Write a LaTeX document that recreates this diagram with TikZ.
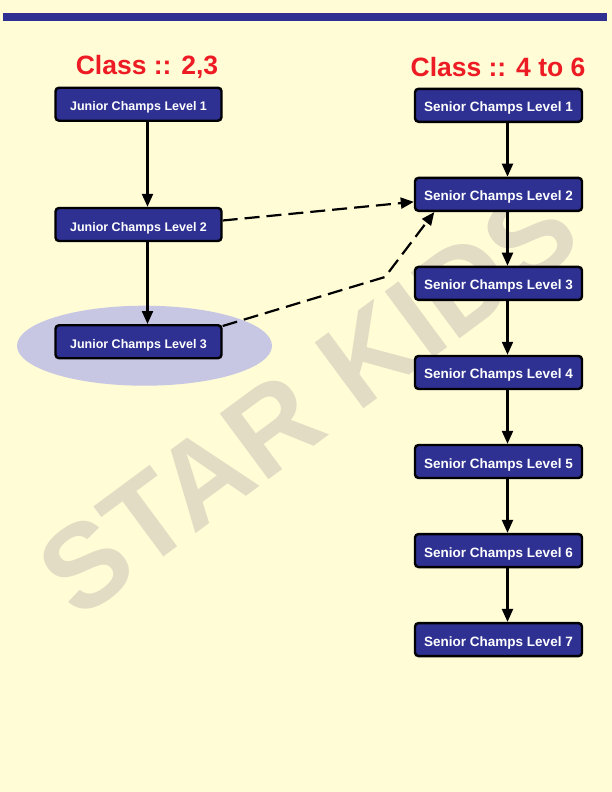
\documentclass[tikz,border=0pt]{standalone}
\usepackage{fontspec}
\setmainfont{Liberation Sans}
\usetikzlibrary{arrows.meta}
\definecolor{paper}{RGB}{255,252,214}
\definecolor{boxblue}{RGB}{46,49,146}
\definecolor{titlered}{RGB}{237,28,36}
\definecolor{halo}{RGB}{199,199,228}
\definecolor{stamp}{RGB}{226,220,196}
\tikzset{
  box-level/.style={
    rectangle,
    rounded corners=3.5pt,
    draw=black,
    line width=2.4pt,
    fill=boxblue,
    text=white,
    minimum height=33pt,
    text height=13pt,
    text depth=0pt,
    inner sep=0pt
  },
  box-junior/.style={box-level, minimum width=166pt, font=\bfseries\fontsize{12.5}{14}\selectfont},
  box-senior/.style={box-level, minimum width=167pt, font=\bfseries\fontsize{13.5}{15}\selectfont},
  title-red/.style={text=titlered, font=\bfseries\fontsize{26.5}{30}\selectfont},
  arrow-solid/.style={line width=2.2pt, -{Triangle[length=13pt,width=11pt]}},
  arrow-dashed/.style={arrow-solid, dash pattern=on 15pt off 7pt}
}

\begin{document}
\begin{tikzpicture}[x=1pt,y=-1pt]
  \useasboundingbox (0,0) rectangle (612,792);
  \fill[paper] (0,0) rectangle (612,792);

  % --- Parameters ---
  \def\xJun{138.5}     % centre of junior column
  \def\xSen{498.5}     % centre of senior column
  \def\ySen{105.3}     % first senior box
  \def\vsep{89.05}     % senior row step
  \def\tick{9pt}       % arrows sit right of centre

  % --- Frame ---
  \fill[boxblue] (3,12.7) rectangle (607,20.7);
  \node[rotate=36.5, text=stamp, font=\bfseries\fontsize{119}{119}\selectfont]
    (stamp) at (308,400) {STAR KIDS};
  \fill[halo] (144.5,345.7) ellipse [x radius=127.5pt, y radius=40pt];

  % --- Titles ---
  \node[title-red] (class-jun) at (147,67) {Class :: 2,3};
  \node[title-red] (class-sen) at (498,67) {Class :: 4 to 6};

  % --- Junior column ---
  \node[box-junior] (jun-1) at (\xJun,104.2) {Junior Champs Level 1};
  \node[box-junior] (jun-2) at (\xJun,224.5) {Junior Champs Level 2};
  \node[box-junior] (jun-3) at (\xJun,341.7) {Junior Champs Level 3};

  \draw[arrow-solid] ([xshift=\tick]jun-1.south) -- ([xshift=\tick]jun-2.north);
  \draw[arrow-solid] ([xshift=\tick]jun-2.south) -- ([xshift=\tick]jun-3.north);

  % --- Senior column ---
  \foreach \lvl in {1,...,7} {
    \pgfmathsetmacro{\cy}{\ySen + (\lvl-1)*\vsep}
    \node[box-senior] (sen-\lvl) at (\xSen,\cy) {Senior Champs Level \lvl};
  }
  \foreach \lvl [count=\nxt from 2] in {1,...,6} {
    \draw[arrow-solid] ([xshift=\tick]sen-\lvl.south) -- ([xshift=\tick]sen-\nxt.north);
  }

  % --- Cross-over paths ---
  \coordinate (kink) at (385,277);
  \draw[arrow-dashed] ([yshift=4pt]jun-2.east) -- ([yshift=-7.5pt]sen-2.west);
  \draw[arrow-dashed] ([yshift=-2pt]jun-3.north east) -- (kink)
    -- ([xshift=20.5pt]sen-2.south west);
\end{tikzpicture}
\end{document}
